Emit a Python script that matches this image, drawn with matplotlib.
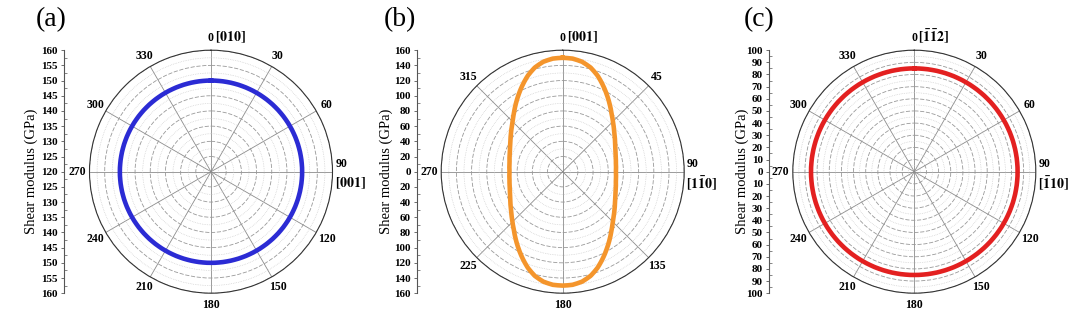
from __future__ import annotations

import numpy as np
import matplotlib
matplotlib.use("Agg")
import matplotlib.pyplot as plt
from matplotlib.ticker import MultipleLocator

plt.rcParams["font.family"] = ["Liberation Serif", "DejaVu Serif"]
plt.rcParams["mathtext.fontset"] = "stix"

# ---------------------------------------------------------------------
# Data, angles in degrees, G in GPa
# ---------------------------------------------------------------------

THETA_A = list(range(0, 361, 10))
G_A = [150, 150, 150, 150, 150, 150, 150, 150, 150, 150,
       150, 150, 150, 150, 150, 150, 150, 150, 150, 150,
       150, 150, 150, 150, 150, 150, 150, 150, 150, 150,
       150, 150, 150, 150, 150, 150, 150]

THETA_B = list(range(0, 361, 5))
G_B = [150, 149.5, 147, 142, 134.5, 125.5, 116.5, 108, 100, 93.5,
       88, 83.5, 79.5, 76.5, 74, 72.5, 71, 70.5, 70, 70.5,
       71, 72.5, 74, 76.5, 79.5, 83.5, 88, 93.5, 100, 108,
       116.5, 125.5, 134.5, 142, 147, 149.5, 150, 149.5, 147, 142,
       134.5, 125.5, 116.5, 108, 100, 93.5, 88, 83.5, 79.5, 76.5,
       74, 72.5, 71, 70.5, 70, 70.5, 71, 72.5, 74, 76.5,
       79.5, 83.5, 88, 93.5, 100, 108, 116.5, 125.5, 134.5, 142,
       147, 149.5, 150]

THETA_C = list(range(0, 361, 10))
G_C = [85, 85, 85, 85, 85, 85, 85, 85, 85, 85,
       85, 85, 85, 85, 85, 85, 85, 85, 85, 85,
       85, 85, 85, 85, 85, 85, 85, 85, 85, 85,
       85, 85, 85, 85, 85, 85, 85]

W, H = 1080, 316
RAD = 121.5      # polar radius in pixels
CY = 171.7       # polar centre, pixels from top


def px_x(x):
    return x / W


def px_y(y):
    return 1 - y / H


def draw_panel(fig, cx, spine_x, ylab_x, tag_x, tag, theta, g, rmin, rmax,
               major, minor, color, ang_step, top_label, right_label):
    left = px_x(cx - RAD)
    bottom = px_y(CY + RAD)
    w = 2 * RAD / W
    h = 2 * RAD / H

    ax = fig.add_axes([left, bottom, w, h], projection="polar")
    ax.set_theta_zero_location("N")
    ax.set_theta_direction(-1)
    ax.set_ylim(rmin, rmax)

    ax.set_xticks(np.deg2rad(np.arange(0, 360, ang_step)))
    ax.set_xticklabels([])
    ax.set_yticks(np.arange(rmin, rmax + 1e-6, major))
    ax.yaxis.set_minor_locator(MultipleLocator(minor))
    ax.set_yticklabels([])
    ax.tick_params(axis="both", length=0)

    ax.grid(axis="x", which="major", color="#8c8c8c", lw=0.6, ls="-")
    ax.grid(axis="y", which="major", color="#999999", lw=0.6, ls=(0, (5, 2)))
    ax.grid(axis="y", which="minor", color="#c8c8c8", lw=0.5, ls=(0, (1, 1.5)))
    ax.spines["polar"].set_color("#333333")
    ax.spines["polar"].set_linewidth(0.8)

    (ln,) = ax.plot(np.deg2rad(theta), g, color=color, lw=3.3,
                    solid_joinstyle="round")
    # let the polar transform draw each segment as a smooth curve
    ln.get_path()._interpolation_steps = 30

    # angle labels
    r_lab = rmin + 1.1 * (rmax - rmin)
    for a in range(0, 360, ang_step):
        if a == 90:
            continue
        ax.text(np.deg2rad(a), r_lab, str(a), ha="center", va="center",
                fontsize=8.5, fontweight="bold", clip_on=False)
    ax.annotate(top_label, xy=(0, r_lab), xytext=(3, 0.5),
                textcoords="offset points", ha="left", va="center",
                fontsize=10, annotation_clip=False)
    ax.annotate("90", xy=(np.deg2rad(90), rmax), xytext=(2, 1),
                textcoords="offset points", ha="left", va="bottom",
                fontsize=8.5, fontweight="bold", annotation_clip=False)
    ax.annotate(right_label, xy=(np.deg2rad(90), rmax), xytext=(1.5, -2.5),
                textcoords="offset points", ha="left", va="top",
                fontsize=10, annotation_clip=False)

    # linear modulus scale on the left
    span = rmax - rmin
    lax = fig.add_axes([px_x(spine_x), bottom, 0.0005, h])
    lax.set_ylim(-span, span)
    lax.patch.set_visible(False)
    for s in ("top", "right", "bottom"):
        lax.spines[s].set_visible(False)
    lax.spines["left"].set_color("#555555")
    lax.spines["left"].set_linewidth(0.8)
    lax.set_xticks([])
    ticks = np.arange(-span, span + 1e-6, major)
    lax.set_yticks(ticks)
    lax.set_yticklabels([f"{abs(t) + rmin:g}" for t in ticks[::-1]],
                        fontsize=8, fontweight="bold")
    lax.yaxis.set_minor_locator(MultipleLocator(minor))
    lax.tick_params(axis="y", which="major", direction="out", length=2.5,
                    width=0.6, pad=2, color="#555555")
    lax.tick_params(axis="y", which="minor", direction="in", length=2,
                    width=0.5, color="#555555")

    fig.text(px_x(ylab_x), px_y(171), "Shear modulus (GPa)", rotation=90,
             ha="center", va="center", fontsize=10.5)
    fig.text(px_x(tag_x), px_y(20), tag, ha="left", va="center", fontsize=20)


def main() -> None:
    fig = plt.figure(figsize=(W / 100, H / 100), dpi=100)

    draw_panel(fig, 211.0, 64, 31.5, 36, "(a)", THETA_A, G_A, 120, 160,
               5, 2.5, "#2b2bd4", 30,
               r"$\mathbf{[010]}$", r"$\mathbf{[001]}$")
    draw_panel(fig, 562.7, 417, 386.5, 384, "(b)", THETA_B, G_B, 0, 160,
               20, 10, "#f4952c", 45,
               r"$\mathbf{[001]}$", r"$\mathbf{[1\bar{1}0]}$")
    draw_panel(fig, 914.3, 769, 742.5, 744, "(c)", THETA_C, G_C, 0, 100,
               10, 5, "#e32020", 30,
               r"$\mathbf{[\bar{1}\bar{1}2]}$", r"$\mathbf{[\bar{1}10]}$")

    fig.savefig("out.png", dpi=100)
    plt.close(fig)


if __name__ == "__main__":
    main()
